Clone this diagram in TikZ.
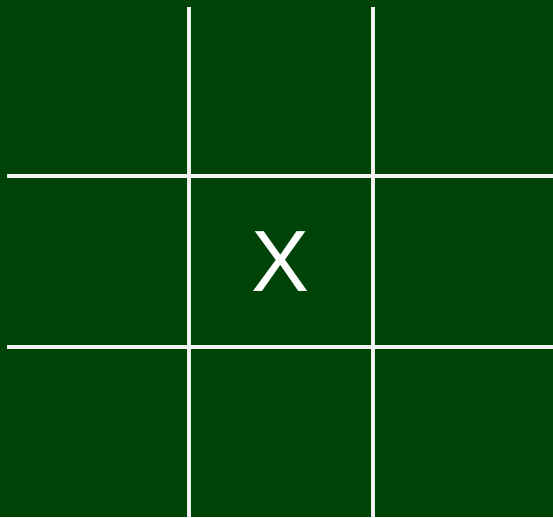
\documentclass[tikz,border=0pt]{standalone}
\usepackage{fontspec}
\setmainfont{Liberation Sans}
\usepackage{tikz}
\usetikzlibrary{positioning}

\definecolor{boardgreen}{RGB}{0,67,6}

\begin{document}
\begin{tikzpicture}[
        x=1pt, y=-1pt,
        % Styles
        board/.style = {fill=boardgreen, draw=none},
        gridline/.style = {draw=white!95!black, line width=3.5pt},
        playermark/.style = {text=white, inner sep=0pt, font=\fontsize{87}{87}\selectfont}
    ]

        % 1. Fond
        \path [board] (0,0) rectangle (553,517);
        \useasboundingbox (0,0) rectangle (553,517);

        % 2. Grille
        \draw [gridline] (189,7) -- (189,517);
        \draw [gridline] (373,7) -- (373,517);
        \draw [gridline] (7,176) -- (553,176);
        \draw [gridline] (7,347) -- (553,347);

        % 3. Case centrale
        \node (center) [playermark] at (281,262) {X};

    \end{tikzpicture}
\end{document}
